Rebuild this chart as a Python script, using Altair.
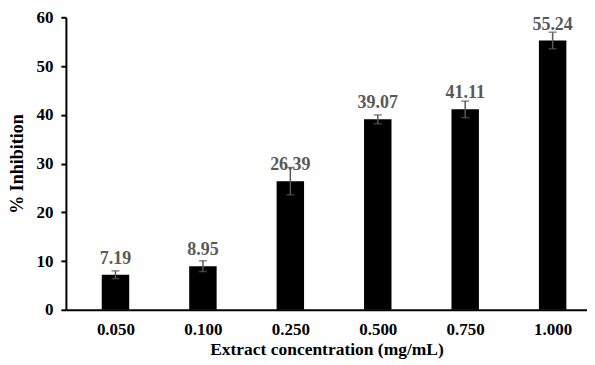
import altair as alt
import pandas as pd

categories = ["0.050", "0.100", "0.250", "0.500", "0.750", "1.000"]
values = [7.19, 8.95, 26.39, 39.07, 41.11, 55.24]
errors = [0.8, 1.1, 2.8, 0.9, 1.7, 1.7]

df = pd.DataFrame({"cat": categories, "val": values, "err": errors})
df["idx"] = list(range(len(categories)))
df["lo"] = df["val"] - df["err"]
df["hi"] = df["val"] + df["err"]
df["label"] = [f"{v:.2f}" for v in values]

FONT = "Liberation Serif"
label_expr = "[" + ",".join(f"'{c}'" for c in categories) + "][datum.value]"

xscale = alt.Scale(domain=[-0.51, 5.336], nice=False, zero=False)
x = alt.X("idx:Q", title="Extract concentration (mg/mL)", scale=xscale,
          axis=alt.Axis(values=list(range(len(categories))), labelExpr=label_expr,
                        grid=False, ticks=False, labelPadding=12, titlePadding=3,
                        labelFont=FONT, labelFontSize=17, labelFontWeight="bold", labelColor="#000",
                        titleFont=FONT, titleFontSize=17.5, titleFontWeight="bold", titleColor="#000",
                        domainColor="#000", domainWidth=2))
xs = alt.X("idx:Q", scale=xscale)

base = alt.Chart(df)

bars = base.mark_bar(color="#000", size=27.5).encode(
    x=x,
    y=alt.Y("val:Q", title="% Inhibition",
            scale=alt.Scale(domain=[0, 60]),
            axis=alt.Axis(values=[0, 10, 20, 30, 40, 50, 60], grid=False, tickSize=5,
                          tickColor="#000", tickWidth=2, domainColor="#000", domainWidth=2,
                          labelFont=FONT, labelFontSize=17, labelFontWeight="bold", labelColor="#000",
                          labelPadding=8, titlePadding=9,
                          titleFont=FONT, titleFontSize=18, titleFontWeight="bold", titleColor="#000")),
)

rules = base.mark_rule(color="#595959", strokeWidth=1.5).encode(x=xs, y="lo:Q", y2="hi:Q")
caps_hi = base.mark_tick(color="#595959", thickness=1.5, size=8, orient="horizontal").encode(x=xs, y="hi:Q")
caps_lo = base.mark_tick(color="#595959", thickness=1.5, size=8, orient="horizontal").encode(x=xs, y="lo:Q")

labels = base.mark_text(font=FONT, fontSize=18, fontWeight="bold", color="#595959",
                        baseline="alphabetic", dy=-11).encode(x=xs, y="val:Q", text="label:N")

chart = alt.layer(bars, rules, caps_hi, caps_lo, labels).properties(
    width=522, height=293, padding={"left": 1, "top": 0, "right": 0, "bottom": 0}
).configure_view(stroke=None)

chart.save("out.html", embed_options={"renderer": "svg", "actions": False})
